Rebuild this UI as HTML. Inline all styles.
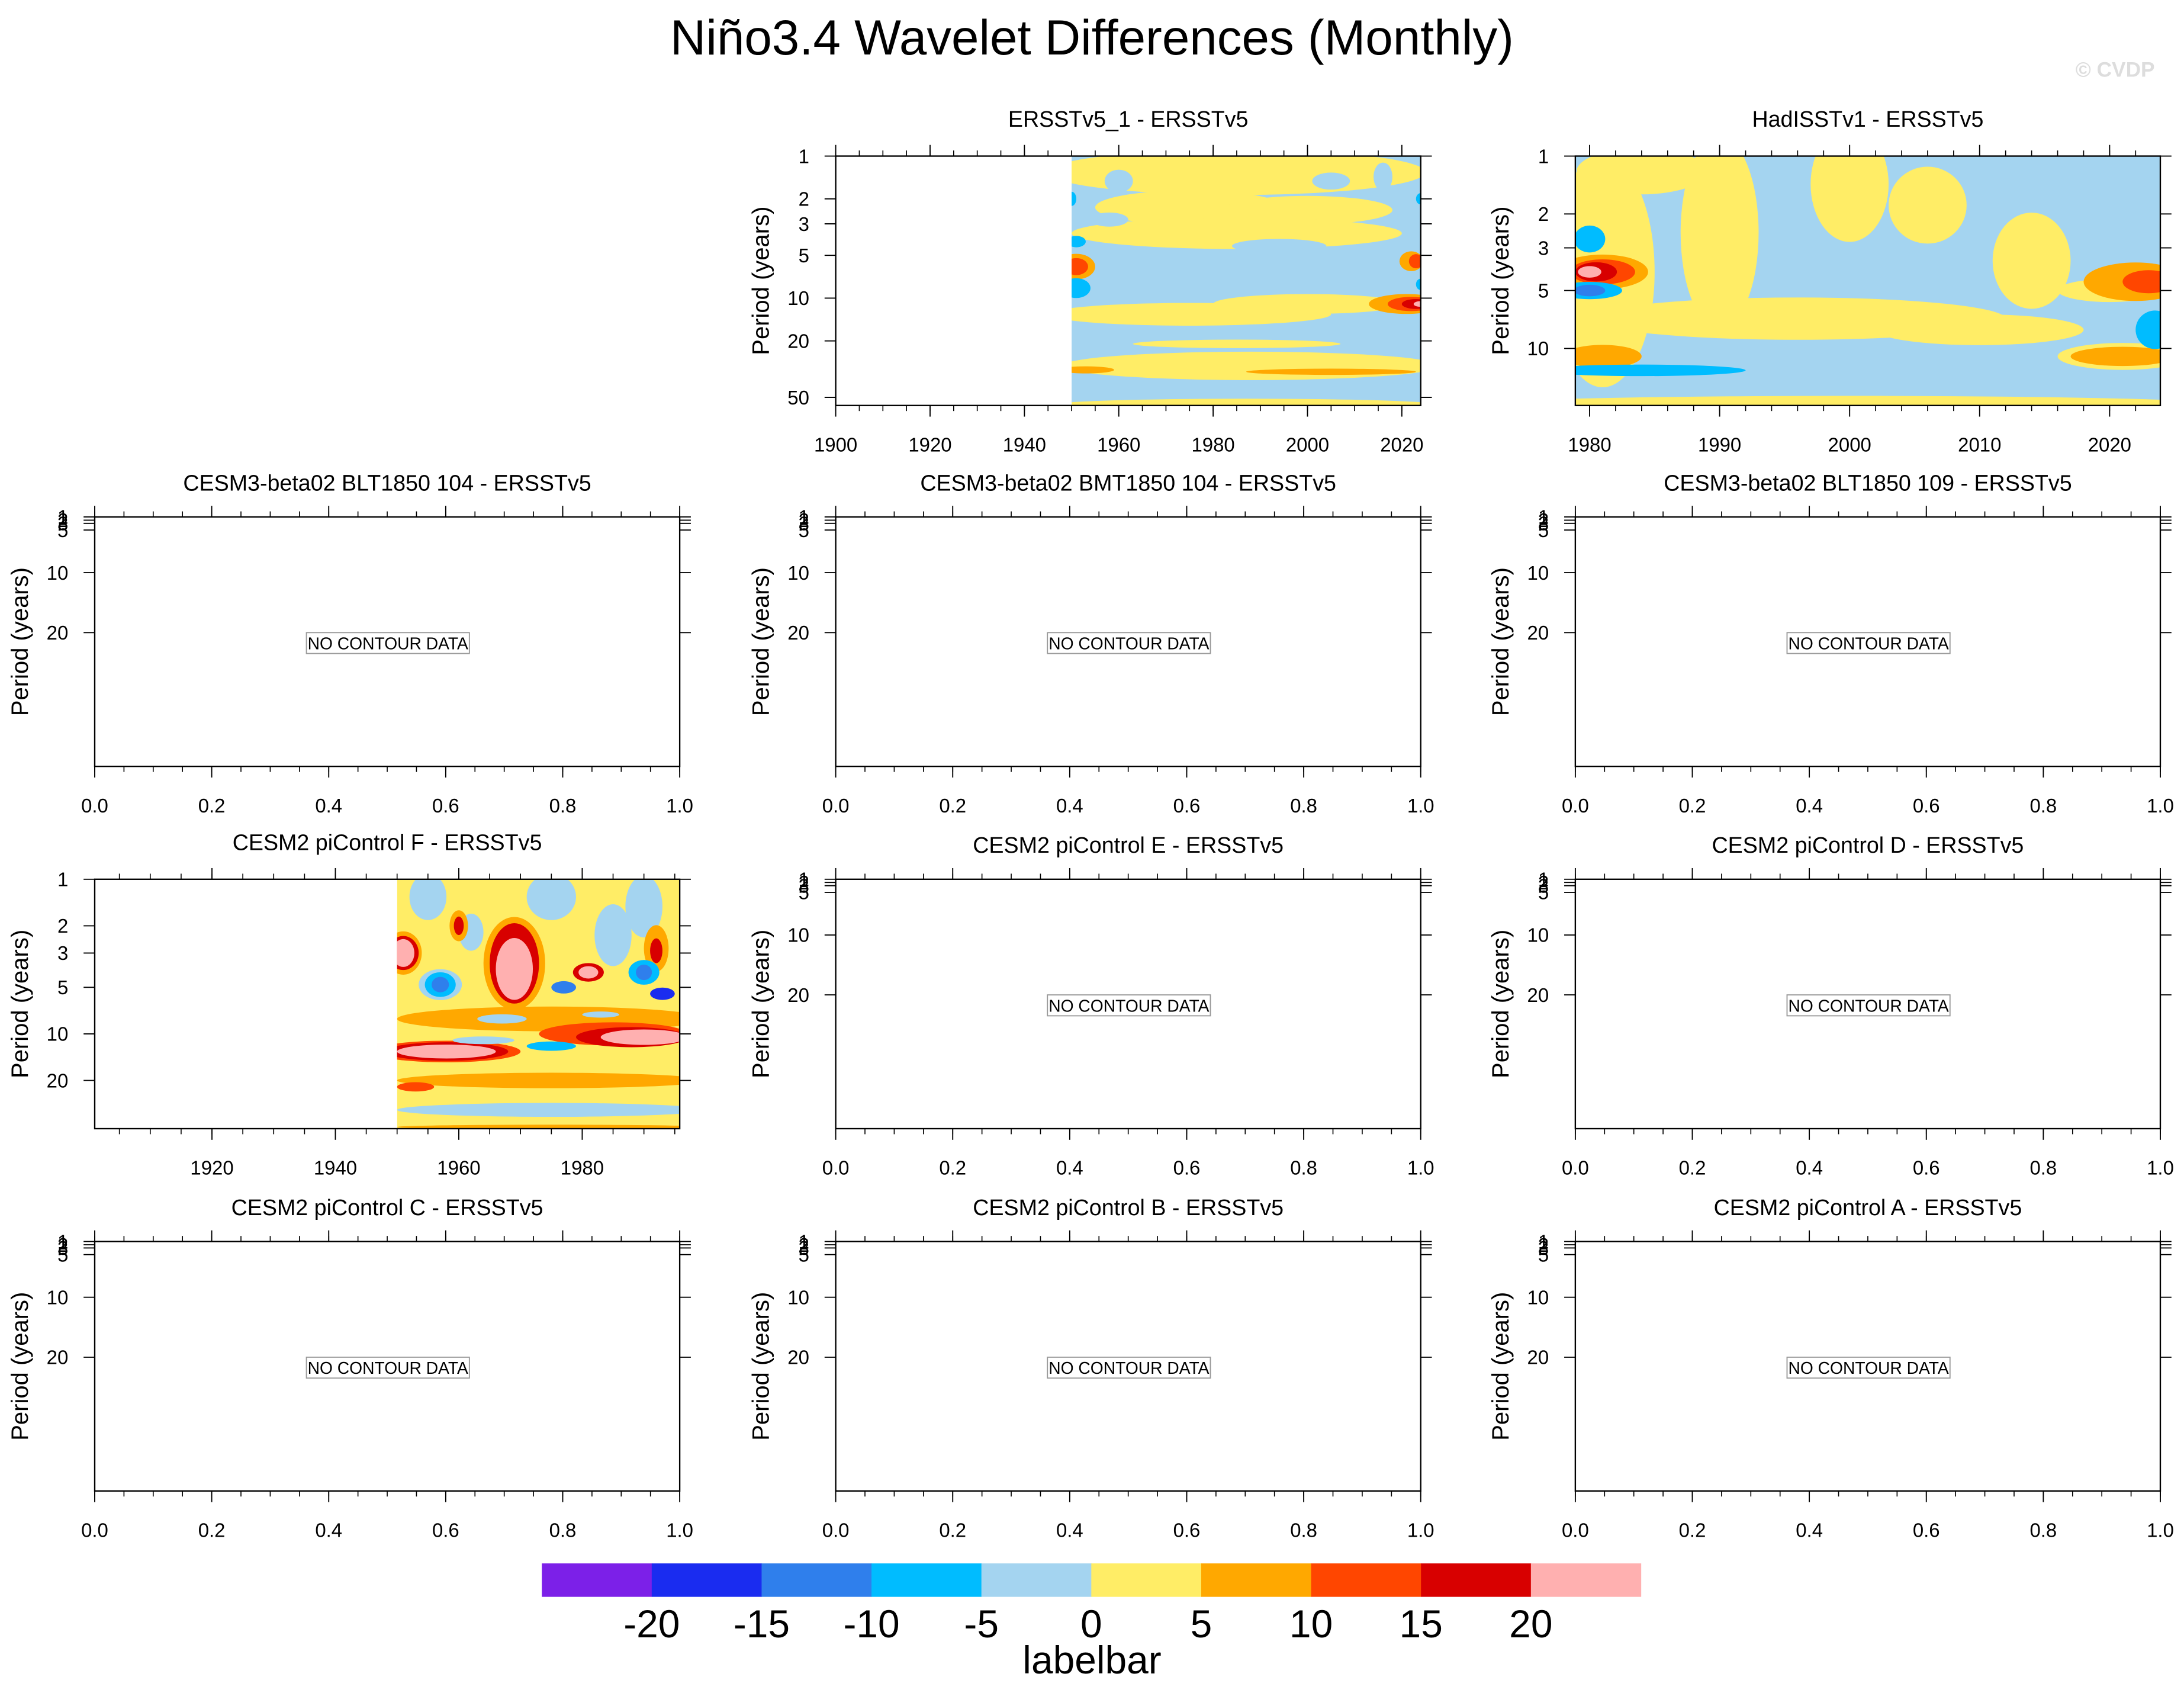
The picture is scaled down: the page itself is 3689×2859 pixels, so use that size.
<!DOCTYPE html>
<html><head><meta charset="utf-8"><title>Niño3.4 Wavelet Differences</title>
<style>html,body{margin:0;padding:0;background:#fff}svg{display:block}</style></head>
<body>
<svg id="fig" xmlns="http://www.w3.org/2000/svg" width="3689" height="2859" viewBox="0 0 1568 1215" preserveAspectRatio="none" font-family="Liberation Sans, DejaVu Sans, sans-serif">
<rect width="1568" height="1215" fill="#fff"/>
<text x="784" y="39" font-size="35.5" text-anchor="middle">Niño3.4 Wavelet Differences (Monthly)</text>
<text x="1547" y="55" font-size="15" text-anchor="end" fill="#ddd" font-weight="bold">© CVDP</text>
<g id="panels"></g>
<g id="colorbar"></g>
</svg>
<script>
// Colour levels / labels
const levelColors = ['#7c20e8','#1a2cf0','#2f7fec','#00bcff','#a4d4f0','#ffed66','#ffa800','#ff4600','#d80000','#ffb0b0'];
const levelLabels = ['-20','-15','-10','-5','0','5','10','15','20'];

// Panel titles
const panelTitles = ['ERSSTv5_1 - ERSSTv5','HadISSTv1 - ERSSTv5',
 'CESM3-beta02 BLT1850 104 - ERSSTv5','CESM3-beta02 BMT1850 104 - ERSSTv5','CESM3-beta02 BLT1850 109 - ERSSTv5',
 'CESM2 piControl F - ERSSTv5','CESM2 piControl E - ERSSTv5','CESM2 piControl D - ERSSTv5',
 'CESM2 piControl C - ERSSTv5','CESM2 piControl B - ERSSTv5','CESM2 piControl A - ERSSTv5'];

// Blobs: [year, period, halfWidthYears, halfHeightDecades, levelIndex]
const blobsP1 = [
 [1985,1.3,40,0.16,5],[1975,2.3,20,0.12,5],[2000,2.4,18,0.1,5],[1960,1.5,3,0.08,4],[2005,1.5,4,0.06,4],[2016,1.4,2,0.1,4],
 [1985,3.5,35,0.11,5],[1958,2.8,4,0.05,4],[1994,4.3,10,0.05,4],
 [1975,13,30,0.08,5],[2000,11,20,0.07,5],[1988,30,40,0.1,5],[1987,56,40,0.04,5],[1985,21,22,0.03,5],
 [1953,32,6,0.025,6],[2005,33,18,0.022,6],
 [1951,6,4,0.09,6],[1951,6,2.5,0.06,7],
 [2021,11,8,0.07,6],[2022,11,5,0.05,7],[2023,11,3,0.035,8],[2024,11,1.5,0.02,9],
 [2022,5.5,2.5,0.07,6],[2023,5.5,1.5,0.05,7],
 [1951,8.5,3,0.07,3],[1951,4,2,0.04,3],[1950,2,1,0.05,3],[2024,2,1,0.04,3],[2024,8,1,0.04,3]
];
const blobsP2 = [
 [1981,4,4,0.6,5],[1984,1.2,5,0.12,5],[1990,2.5,3,0.5,5],[2000,1.4,3,0.3,5],[1996,7,16,0.11,5],[2014,3.5,3,0.25,5],
 [2006,1.8,3,0.2,5],[2010,8,8,0.08,5],[2000,19.8,30,0.05,5],[2021,11,5,0.07,5],[2020,5,4,0.06,5],
 [1981,4,3.5,0.09,6],[1981,4,2.5,0.065,7],[1980.5,4,1.6,0.05,8],[1980,4,0.9,0.03,9],
 [1980,5,2.5,0.045,3],[1980,5,1.2,0.03,2],[1980,2.7,1.2,0.07,3],
 [1981,11,3,0.06,6],[2022,4.5,4,0.1,6],[2023,4.5,2,0.06,7],[2021,11,4,0.05,6],
 [1984,13,8,0.03,3],[2023.5,8,1.5,0.1,3]
];
const blobsP3 = [
 [1955,1.3,3,0.15,4],[1975,1.3,4,0.15,4],[1990,1.5,3,0.2,4],[1962,2.2,2,0.12,4],[1985,2.3,3,0.2,4],
 [1960,2,1.5,0.1,6],[1960,2,0.8,0.06,8],[1992,2.8,2,0.15,6],[1992,2.9,1,0.08,8],
 [1951,3,3,0.14,6],[1951,3,2.5,0.11,8],[1951,3,1.8,0.09,9],
 [1969,3.5,5,0.3,6],[1969,3.5,4,0.26,8],[1969,3.8,3,0.2,9],[1981,4,2.5,0.06,8],[1981,4,1.6,0.04,9],
 [1975,8,25,0.08,6],[1985,10,12,0.075,7],[1988,10.5,9,0.065,8],[1990,10.5,7,0.05,9],
 [1958,13,12,0.07,7],[1958,13,10,0.06,8],[1958,13,8,0.045,9],
 [1975,20,25,0.05,6],[1953,22,3,0.03,7],[1975,31,25,0.045,4],[1975,40,25,0.015,6],
 [1957,4.8,3.5,0.1,4],[1957,4.8,2.5,0.08,3],[1957,4.8,1.4,0.05,2],
 [1990,4,2.5,0.08,3],[1990,4,1.3,0.05,2],[1993,5.5,2,0.04,1],[1977,5,2,0.04,2],
 [1967,8,4,0.03,4],[1975,12,4,0.03,3],[1964,11,5,0.025,4],[1983,7.5,3,0.02,4]
];

const NS='http://www.w3.org/2000/svg';
const root=document.getElementById('panels');
function mk(tag,attrs,parent){const e=document.createElementNS(NS,tag);for(const k in attrs)e.setAttribute(k,attrs[k]);(parent||root).appendChild(e);return e;}

const colX=[68,600,1131], rowY=[112,371,631,891], PW=420, PH=179;
let clipId=0;

function axes(g,x0,y0,opts){
  const fr=mk('rect',{x:x0,y:y0,width:PW,height:PH,fill:'none',stroke:'#000','stroke-width':1},g);
  
  
  const xs=opts.xs;
  opts.xMinor.forEach(v=>{const px=xs(v);if(px<x0-0.5||px>x0+PW+0.5)return;
    mk('line',{x1:px,x2:px,y1:y0,y2:y0-4,stroke:'#000','stroke-width':0.7},g);
    mk('line',{x1:px,x2:px,y1:y0+PH,y2:y0+PH+4,stroke:'#000','stroke-width':0.7},g);});
  opts.xMajor.forEach((v,i)=>{const px=xs(v);
    mk('line',{x1:px,x2:px,y1:y0,y2:y0-8,stroke:'#000','stroke-width':0.8},g);
    mk('line',{x1:px,x2:px,y1:y0+PH,y2:y0+PH+8,stroke:'#000','stroke-width':0.8},g);
    const t=mk('text',{x:px,y:y0+PH+33,'font-size':14,'text-anchor':'middle'},g);
    
    
    t.textContent=opts.xLabels[i];});
  opts.yTicks.forEach((v,i)=>{const py=opts.ys(v);
    mk('line',{x1:x0,x2:x0-8,y1:py,y2:py,stroke:'#000','stroke-width':0.8},g);
    mk('line',{x1:x0+PW,x2:x0+PW+8,y1:py,y2:py,stroke:'#000','stroke-width':0.8},g);
    const t=mk('text',{x:x0-19,y:py+5,'font-size':14,'text-anchor':'end'},g);
    
    
    t.textContent=opts.yTicks[i];});
  const yt=mk('text',{x:0,y:0,'font-size':17,'text-anchor':'middle',transform:`translate(${x0-48},${y0+PH/2}) rotate(-90)`},g);
  
  
  yt.textContent='Period (years)';
}

function contourPanel(idx,x0,y0,cfg){
  const g=mk('g',{});
  
  
  const tt=mk('text',{x:x0+PW/2,y:y0-21,'font-size':16,'text-anchor':'middle'},g);
  
  
  tt.textContent=panelTitles[idx];
  const xs=v=>x0+(v-cfg.xMin)/(cfg.xMax-cfg.xMin)*PW;
  const lmin=Math.log10(cfg.pMin), lmax=Math.log10(cfg.pMax);
  const ys=v=>y0+(Math.log10(v)-lmin)/(lmax-lmin)*PH;
  const pxPerDec=PH/(lmax-lmin);
  const id='clip'+(clipId++);
  const cp=mk('clipPath',{id:id},g);
  const dx0=Math.max(xs(cfg.dataStart),x0);
  mk('rect',{x:dx0,y:y0,width:x0+PW-dx0,height:PH},cp);
  const cg=mk('g',{'clip-path':`url(#${id})`},g);
  const base=mk('rect',{x:dx0,y:y0,width:x0+PW-dx0,height:PH,fill:levelColors[cfg.base]},cg);
  
  
  cfg.blobs.forEach(b=>{
    const e=mk('ellipse',{cx:xs(b[0]),cy:ys(b[1]),rx:b[2]/(cfg.xMax-cfg.xMin)*PW,ry:b[3]*pxPerDec,fill:levelColors[b[4]]},cg);
    
    
  });
  axes(g,x0,y0,{xs,ys,xMajor:cfg.xMajor,xLabels:cfg.xMajor.map(String),xMinor:cfg.xMinor,yTicks:cfg.yTicks});
}

function range(a,b,s){const r=[];for(let v=a;v<=b+1e-9;v+=s)r.push(+v.toFixed(3));return r;}

contourPanel(0,colX[1],rowY[0],{xMin:1900,xMax:2024,pMin:1,pMax:57,dataStart:1950,base:4,blobs:blobsP1,
  xMajor:range(1900,2020,20),xMinor:range(1900,2024,5),yTicks:[1,2,3,5,10,20,50]});
contourPanel(1,colX[2],rowY[0],{xMin:1978.9,xMax:2023.9,pMin:1,pMax:19.8,dataStart:1978.9,base:4,blobs:blobsP2,
  xMajor:range(1980,2020,10),xMinor:range(1980,2023,2),yTicks:[1,2,3,5,10]});
contourPanel(5,colX[0],rowY[2],{xMin:1901,xMax:1995.8,pMin:1,pMax:41,dataStart:1950,base:5,blobs:blobsP3,
  xMajor:[1920,1940,1960,1980],xMinor:range(1905,1995,5),yTicks:[1,2,3,5,10,20]});

// Empty panels
const emptyYTicks=['1','2','3','5','10','20'];
const emptyYOffsets=[0,2.3,4.6,9.4,40,83];
const emptyXLabels=['0.0','0.2','0.4','0.6','0.8','1.0'];
[[2,0,1],[3,1,1],[4,2,1],[6,1,2],[7,2,2],[8,0,3],[9,1,3],[10,2,3]].forEach(([idx,c,r])=>{
  const x0=colX[c],y0=rowY[r];
  const g=mk('g',{});
  
  
  const tt=mk('text',{x:x0+PW/2,y:y0-19,'font-size':16,'text-anchor':'middle'},g);
  
  
  tt.textContent=panelTitles[idx];
  const xs=v=>x0+v*PW;
  axes(g,x0,y0,{xs,ys:v=>y0+emptyYOffsets[emptyYTicks.indexOf(v)],
    xMajor:[0,0.2,0.4,0.6,0.8,1.0],xLabels:emptyXLabels,xMinor:range(0,1,0.05),yTicks:emptyYTicks});
  const bx=x0+PW/2;
  const box=mk('rect',{x:bx-58,y:y0+83,width:117,height:15,fill:'#fff',stroke:'#999','stroke-width':0.8},g);
  
  
  const nt=mk('text',{x:bx+0.5,y:y0+95,'font-size':12,'text-anchor':'middle'},g);
  
  
  nt.textContent='NO CONTOUR DATA';
});

// Colorbar
const cb=document.getElementById('colorbar');
const cbX=389, cbW=789, cbY=1122, cbH=24, bw=cbW/levelColors.length;
levelColors.forEach((c,i)=>{
  const r=mk('rect',{x:cbX+i*bw,y:cbY,width:bw+0.3,height:cbH,fill:c},cb);
  
  
});
levelLabels.forEach((l,i)=>{
  const t=mk('text',{x:cbX+(i+1)*bw,y:cbY+53,'font-size':28,'text-anchor':'middle'},cb);
  
  
  t.textContent=l;
});
const lb=mk('text',{x:784,y:1201,'font-size':28,'text-anchor':'middle'},cb);


lb.textContent='labelbar';
</script>
</body></html>
